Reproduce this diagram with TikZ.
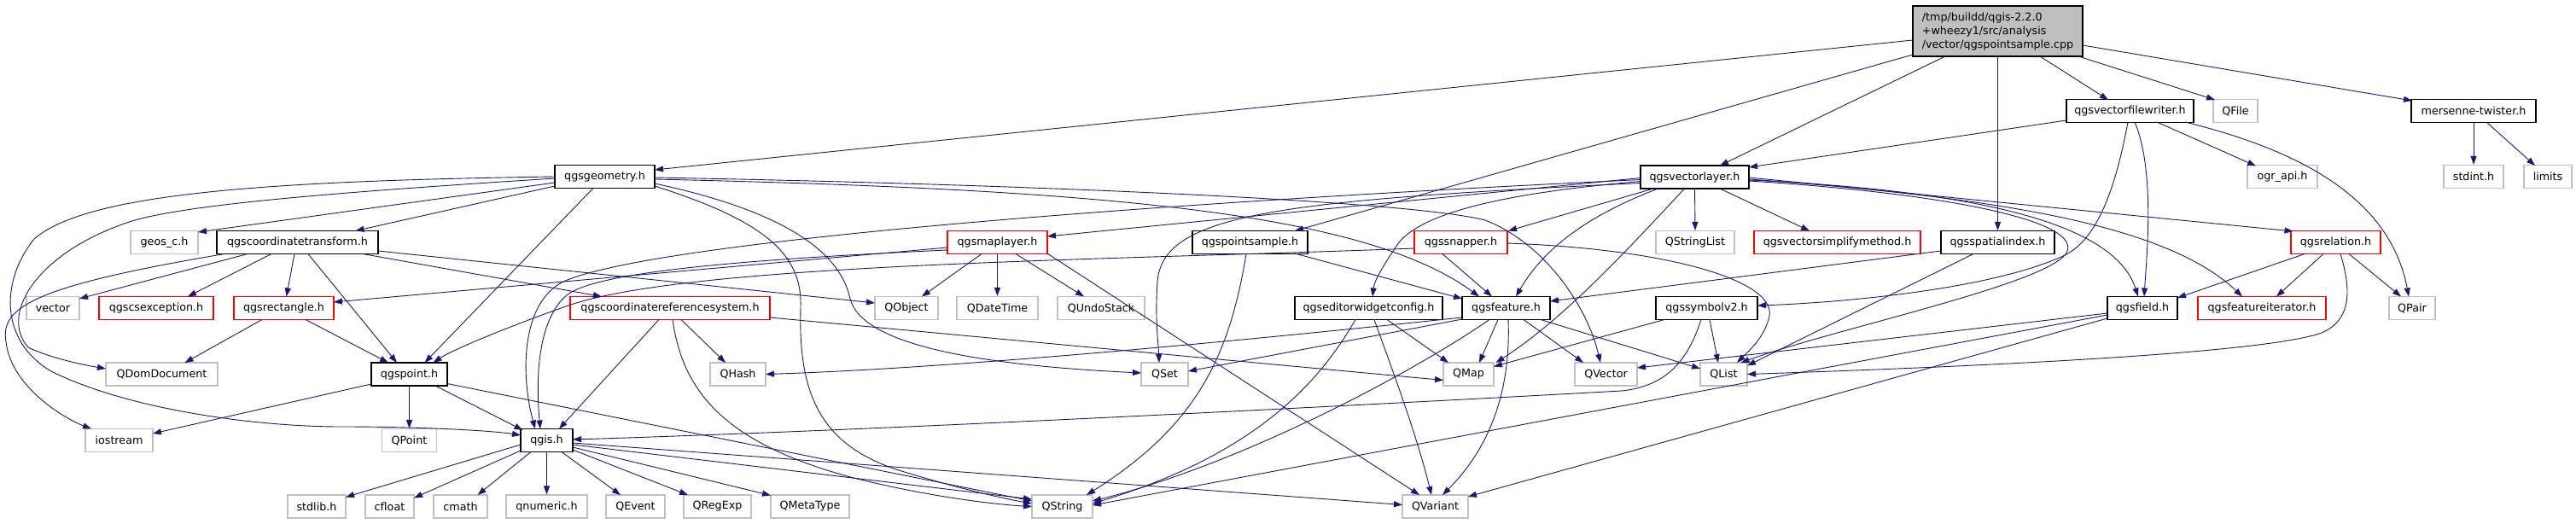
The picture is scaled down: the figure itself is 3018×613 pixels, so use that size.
\documentclass[tikz,border=0pt]{standalone}
\usepackage{fontspec}
\setmainfont{DejaVu Sans}
\usetikzlibrary{arrows.meta,calc}
\definecolor{edgecol}{HTML}{191970}
\definecolor{grayb}{HTML}{BFBFBF}
\definecolor{cppfill}{HTML}{BFBFBF}
\tikzset{
  nodebox/.style={draw, rectangle, inner sep=0pt, minimum height=27pt, fill=white, line width=1.1pt, font=\fontsize{12.7}{16}\selectfont},
  gbox/.style={nodebox, draw=grayb},
  kbox/.style={nodebox, draw=black},
  rbox/.style={nodebox, draw=red},
  cppbox/.style={nodebox, draw=black, fill=cppfill, minimum height=59pt, align=left},
  edge/.style={draw=edgecol, line width=0.9pt, -{Triangle[length=10pt,width=7pt]}}
}
\begin{document}
\begin{tikzpicture}[x=1pt,y=-1pt]
\useasboundingbox (0,0) rectangle (3018,613);
% row 1
\node[cppbox, minimum width=199pt] (cpp) at (2340.5,36.5) {/tmp/buildd/qgis-2.2.0\\+wheezy1/src/analysis\\/vector/qgspointsample.cpp};
% row 2
\node[kbox, minimum width=149pt] (vfw) at (2495.5,130) {qgsvectorfilewriter.h};
\node[gbox, minimum width=52pt] (qfile) at (2619,130) {QFile};
\node[kbox, minimum width=146pt] (mt) at (2898,130) {mersenne-twister.h};
% row 3
\node[kbox, minimum width=117pt] (geom) at (708.5,207) {qgsgeometry.h};
\node[kbox, minimum width=127pt] (vlayer) at (1985.5,207.5) {qgsvectorlayer.h};
\node[gbox, minimum width=82pt] (ogr) at (2674,207) {ogr\_api.h};
\node[gbox, minimum width=70pt] (stdint) at (2898,207) {stdint.h};
\node[gbox, minimum width=56pt] (limits) at (2985,207) {limits};
% row 4
\node[gbox, minimum width=79pt] (geos) at (192.5,284) {geos\_c.h};
\node[kbox, minimum width=189pt] (ct) at (348.5,284) {qgscoordinatetransform.h};
\node[rbox, minimum width=117pt] (maplayer) at (1168.5,284) {qgsmaplayer.h};
\node[kbox, minimum width=135pt] (psample) at (1464.5,284) {qgspointsample.h};
\node[rbox, minimum width=109pt] (snapper) at (1711.5,284) {qgssnapper.h};
\node[gbox, minimum width=92pt] (qsl) at (1986,284) {QStringList};
\node[rbox, minimum width=195pt] (vsm) at (2152.5,284) {qgsvectorsimplifymethod.h};
\node[kbox, minimum width=133pt] (spidx) at (2340.5,284) {qgsspatialindex.h};
\node[rbox, minimum width=105pt] (rel) at (2736.5,284) {qgsrelation.h};
% row 5
\node[gbox, minimum width=62pt] (vector) at (62,361) {vector};
\node[rbox, minimum width=134pt] (csexc) at (183,361) {qgscsexception.h};
\node[rbox, minimum width=117pt] (rect) at (332.5,361) {qgsrectangle.h};
\node[rbox, minimum width=234pt] (crs) at (785,361) {qgscoordinatereferencesystem.h};
\node[gbox, minimum width=74pt] (qobj) at (1062,361) {QObject};
\node[gbox, minimum width=95pt] (qdt) at (1168.5,361) {QDateTime};
\node[gbox, minimum width=102pt] (qus) at (1290,361) {QUndoStack};
\node[kbox, minimum width=173pt] (ewc) at (1603.5,361) {qgseditorwidgetconfig.h};
\node[kbox, minimum width=103pt] (feat) at (1764.5,361) {qgsfeature.h};
\node[kbox, minimum width=119pt] (sym) at (1999.5,361) {qgssymbolv2.h};
\node[kbox, minimum width=82pt] (field) at (2510,361) {qgsfield.h};
\node[rbox, minimum width=150pt] (fiter) at (2650,361) {qgsfeatureiterator.h};
\node[gbox, minimum width=54pt] (qpair) at (2826,361) {QPair};
% row 6
\node[gbox, minimum width=131pt] (qdom) at (189.5,438.5) {QDomDocument};
\node[kbox, minimum width=89pt] (point) at (479.5,438.5) {qgspoint.h};
\node[gbox, minimum width=65pt] (qhash) at (864.5,438.5) {QHash};
\node[gbox, minimum width=55pt] (qset) at (1364.5,438.5) {QSet};
\node[gbox, minimum width=59pt] (qmap) at (1720.5,438.5) {QMap};
\node[gbox, minimum width=73pt] (qvec) at (1881.5,438.5) {QVector};
\node[gbox, minimum width=55pt] (qlist) at (2019.5,438.5) {QList};
% row 7
\node[gbox, minimum width=79pt] (iostream) at (139.5,516) {iostream};
\node[gbox, minimum width=64pt] (qpoint) at (479.5,516) {QPoint};
\node[kbox, minimum width=61pt] (qgis) at (640.5,516) {qgis.h};
% row 8
\node[gbox, minimum width=68pt] (stdlib) at (371,593.5) {stdlib.h};
\node[gbox, minimum width=57pt] (cfloat) at (456.5,593.5) {cfloat};
\node[gbox, minimum width=63pt] (cmath) at (539.5,593.5) {cmath};
\node[gbox, minimum width=95pt] (qnum) at (640.5,593.5) {qnumeric.h};
\node[gbox, minimum width=69pt] (qevent) at (744.5,593.5) {QEvent};
\node[gbox, minimum width=79pt] (qregexp) at (840.5,593.5) {QRegExp};
\node[gbox, minimum width=92pt] (qmeta) at (949,593.5) {QMetaType};
\node[gbox, minimum width=71pt] (qstring) at (1244.5,593.5) {QString};
\node[gbox, minimum width=77pt] (qvariant) at (1681.5,593.5) {QVariant};

% ---- edges from cpp
\draw[edge] ($(cpp)+(-99.5,10.5)$) -- ($(geom)+(58.5,-8)$);
\draw[edge] ($(cpp)+(-99.5,27.5)$) -- ($(psample)+(52.5,-13.5)$);
\draw[edge] ($(cpp)+(-61.5,29.5)$) -- ($(vlayer)+(29.5,-13.5)$);
\draw[edge] (cpp.south) -- (spidx.north);
\draw[edge] ($(cpp)+(49.5,29.5)$) -- ($(vfw)+(-25.5,-13)$);
\draw[edge] ($(cpp)+(94.5,29.5)$) -- ($(qfile)+(-24,-13)$);
\draw[edge] ($(cpp)+(99.5,16.5)$) -- ($(mt)+(-72,-12)$);
% ---- vfw
\draw[edge] ($(vfw)+(-74.5,11)$) -- ($(vlayer)+(63.5,-11.5)$);
\draw[edge] ($(vfw)+(-2.5,13)$) .. controls (2475,240) and (2450,285) .. (2417,300) .. controls (2330,340) and (2150,355) .. ($(sym)+(59.5,-3)$);
\draw[edge] ($(vfw)+(5.5,13)$) .. controls (2525,200) and (2515,300) .. ($(field)+(2,-13.5)$);
\draw[edge] ($(vfw)+(31.5,13)$) -- ($(ogr)+(-31,-12.5)$);
\draw[edge] ($(vfw)+(64.5,13)$) .. controls (2690,175) and (2800,230) .. ($(qpair)+(-4,-13.5)$);
% ---- mersenne
\draw[edge] (mt.south) -- (stdint.north);
\draw[edge] ($(mt)+(15,13)$) -- ($(limits)+(-15,-13)$);
% ---- vlayer
\draw[edge] ($(vlayer)+(-63.5,1)$) -- ($(maplayer)+(58.5,-7)$);
\draw[edge] ($(vlayer)+(-63.5,3)$) .. controls (1300,240) and (760,285) .. (660,330) .. controls (610,355) and (610,440) .. ($(qgis)+(-13.5,-13.5)$);
\draw[edge] ($(vlayer)+(-63.5,7)$) .. controls (1500,235) and (1362,250) .. (1356,330) .. controls (1353,375) and (1357,400) .. ($(qset)+(-6.5,-13.5)$);
\draw[edge] ($(vlayer)+(-63.5,5)$) .. controls (1740,228) and (1655,255) .. (1635,290) .. controls (1618,315) and (1610,330) .. ($(ewc)+(4.5,-13.5)$);
\draw[edge] ($(vlayer)+(-48.5,13.5)$) -- ($(snapper)+(55.5,-13.5)$);
\draw[edge] ($(vlayer)+(-43,13.5)$) .. controls (1880,245) and (1815,280) .. ($(feat)+(11.5,-13.5)$);
\draw[edge] ($(vlayer)+(-12,13.5)$) .. controls (1900,300) and (1830,375) .. ($(qmap)+(32,-13.5)$);
\draw[edge] (vlayer.south) -- (qsl.north);
\draw[edge] ($(vlayer)+(29.5,13.5)$) -- ($(vsm)+(-32.5,-13.5)$);
\draw[edge] ($(vlayer)+(63.5,0.5)$) -- ($(rel)+(-50,-13)$);
\draw[edge] ($(vlayer)+(63.5,2.5)$) .. controls (2350,232) and (2540,265) .. ($(fiter)+(-23,-13.5)$);
\draw[edge] ($(vlayer)+(63.5,3.5)$) .. controls (2350,225) and (2480,270) .. ($(field)+(-5,-13.5)$);
\draw[edge] ($(vlayer)+(63.5,4.5)$) .. controls (2300,228) and (2445,262) .. (2420,298) .. controls (2390,335) and (2150,385) .. ($(qlist)+(20,-13.5)$);
% ---- geom
\draw[edge] ($(geom)+(-58.5,7)$) -- ($(geos)+(39.5,-12)$);
\draw[edge] ($(geom)+(-58.5,11)$) -- ($(ct)+(68,-13.5)$);
\draw[edge] ($(geom)+(-58.5,2)$) .. controls (400,225) and (200,240) .. (143,263) .. controls (40,300) and (0,370) .. (33,407) .. controls (60,420) and (100,428) .. ($(qdom)+(-65.5,-6.5)$);
\draw[edge] ($(geom)+(-58.5,0)$) .. controls (300,212) and (100,228) .. (40,280) .. controls (0,330) and (0,400) .. (60,435) .. controls (150,480) and (300,500) .. (400,500) .. controls (500,500) and (580,505) .. ($(qgis)+(-30.5,-6)$);
\draw[edge] ($(geom)+(-13.5,13.5)$) -- ($(point)+(18,-13.5)$);
\draw[edge] ($(geom)+(58.5,1)$) .. controls (1200,216) and (1650,235) .. (1740,258) .. controls (1810,285) and (1860,360) .. ($(qvec)+(-6.5,-13.5)$);
\draw[edge] ($(geom)+(58.5,3)$) .. controls (1300,222) and (1600,250) .. ($(feat)+(-31.5,-13.5)$);
\draw[edge] ($(geom)+(58.5,8)$) .. controls (930,250) and (985,300) .. (996,350) .. controls (1010,405) and (1150,428) .. ($(qset)+(-27.5,-1.5)$);
\draw[edge] ($(geom)+(58.5,11)$) .. controls (900,260) and (940,300) .. (938,360) .. controls (935,460) and (960,520) .. (1050,550) .. controls (1120,572) and (1180,585) .. ($(qstring)+(-35.5,-3.5)$);
% ---- ct
\draw[edge] ($(ct)+(-85.5,13.5)$) .. controls (40,335) and (0,360) .. (7,400) .. controls (12,450) and (70,488) .. ($(iostream)+(-32.5,-13.5)$);
\draw[edge] ($(ct)+(-58.5,13.5)$) -- ($(vector)+(31,-11)$);
\draw[edge] ($(ct)+(-30.5,13.5)$) -- ($(csexc)+(37,-13.5)$);
\draw[edge] ($(ct)+(-3.5,13.5)$) -- ($(rect)+(3,-13.5)$);
\draw[edge] ($(ct)+(12.5,13.5)$) -- ($(point)+(-14.5,-13.5)$);
\draw[edge] ($(ct)+(76.5,13.5)$) -- ($(crs)+(-80,-13.5)$);
\draw[edge] ($(ct)+(94.5,10)$) -- ($(qobj)+(-37,-6)$);
% ---- rect
\draw[edge] ($(rect)+(-25.5,13.5)$) -- ($(qdom)+(27,-13.5)$);
\draw[edge] ($(rect)+(25.5,13.5)$) -- ($(point)+(-24.5,-13.5)$);
% ---- crs
\draw[edge] ($(crs)+(-13,13.5)$) -- ($(qgis)+(14.5,-13.5)$);
\draw[edge] ($(crs)+(13,13.5)$) -- ($(qhash)+(-14.5,-13.5)$);
\draw[edge] ($(crs)+(3,13.5)$) .. controls (800,460) and (850,520) .. (1000,560) .. controls (1100,585) and (1180,592) .. ($(qstring)+(-35.5,0)$);
\draw[edge] ($(crs)+(117,11)$) -- ($(qmap)+(-29.5,7)$);
% ---- point
\draw[edge] ($(point)+(-44.5,11.5)$) -- ($(iostream)+(39.5,-8)$);
\draw[edge] (point.south) -- (qpoint.north);
\draw[edge] ($(point)+(30.5,13.5)$) -- ($(qgis)+(-28,-12)$);
\draw[edge] ($(point)+(44.5,11)$) -- ($(qstring)+(-35.5,-6.5)$);
% ---- qgis
\draw[edge] ($(qgis)+(-30.5,5)$) -- ($(stdlib)+(34,-11)$);
\draw[edge] ($(qgis)+(-30.5,12)$) -- ($(cfloat)+(28.5,-10)$);
\draw[edge] ($(qgis)+(-18.5,13.5)$) -- ($(cmath)+(20,-13.5)$);
\draw[edge] (qgis.south) -- (qnum.north);
\draw[edge] ($(qgis)+(17.5,13.5)$) -- ($(qevent)+(-17.5,-13.5)$);
\draw[edge] ($(qgis)+(30.5,11)$) -- ($(qregexp)+(-34.5,-13.5)$);
\draw[edge] ($(qgis)+(30.5,8)$) -- ($(qmeta)+(-46,-13)$);
\draw[edge] ($(qgis)+(30.5,5)$) -- ($(qstring)+(-35.5,-8.5)$);
\draw[edge] ($(qgis)+(30.5,3)$) -- ($(qvariant)+(-38.5,-2)$);
% ---- maplayer
\draw[edge] ($(maplayer)+(-18.5,13.5)$) -- ($(qobj)+(18,-13.5)$);
\draw[edge] (maplayer.south) -- (qdt.north);
\draw[edge] ($(maplayer)+(21.5,13.5)$) -- ($(qus)+(-20,-13.5)$);
\draw[edge] ($(maplayer)+(58.5,13)$) -- ($(qvariant)+(-18.5,-13.5)$);
\draw[edge] ($(maplayer)+(-58.5,6)$) -- ($(rect)+(58.5,-7)$);
\draw[edge] ($(maplayer)+(-58.5,9)$) .. controls (850,305) and (700,320) .. (665,345) .. controls (628,375) and (628,450) .. ($(qgis)+(-7.5,-13.5)$);
% ---- psample
\draw[edge] ($(psample)+(54.5,13.5)$) -- ($(feat)+(-51.5,-11)$);
\draw[edge] ($(psample)+(-4.5,13.5)$) .. controls (1440,420) and (1400,500) .. ($(qstring)+(28.5,-13.5)$);
% ---- snapper
\draw[edge] ($(snapper)+(-54.5,7)$) .. controls (1300,305) and (800,308) .. (660,360) .. controls (590,385) and (530,410) .. ($(point)+(28,-13.5)$);
\draw[edge] ($(snapper)+(-21.5,13.5)$) -- ($(feat)+(-16.5,-13.5)$);
\draw[edge] ($(snapper)+(54.5,1)$) .. controls (1960,292) and (2080,330) .. (2073,370) .. controls (2068,395) and (2048,412) .. ($(qlist)+(15.5,-13.5)$);
% ---- ewc
\draw[edge] ($(ewc)+(-15.5,13.5)$) .. controls (1550,440) and (1480,530) .. ($(qstring)+(35.5,-3.5)$);
\draw[edge] ($(ewc)+(6.5,13.5)$) .. controls (1630,430) and (1660,510) .. ($(qvariant)+(-4.5,-13.5)$);
\draw[edge] ($(ewc)+(21.5,13.5)$) -- ($(qmap)+(-23.5,-13.5)$);
% ---- feat
\draw[edge] ($(feat)+(-51.5,11)$) .. controls (1400,405) and (1100,432) .. ($(qhash)+(32.5,0)$);
\draw[edge] ($(feat)+(-51.5,13)$) -- ($(qset)+(27.5,-3.5)$);
\draw[edge] ($(feat)+(-19.5,13.5)$) .. controls (1650,440) and (1450,545) .. ($(qstring)+(35.5,-6.5)$);
\draw[edge] ($(feat)+(-9.5,13.5)$) -- ($(qmap)+(12.5,-13.5)$);
\draw[edge] ($(feat)+(2.5,13.5)$) .. controls (1770,450) and (1750,520) .. ($(qvariant)+(8.5,-13.5)$);
\draw[edge] ($(feat)+(20.5,13.5)$) -- ($(qvec)+(-26.5,-13.5)$);
\draw[edge] ($(feat)+(40.5,13.5)$) -- ($(qlist)+(-27.5,-6.5)$);
% ---- sym
\draw[edge] ($(sym)+(-49.5,13.5)$) -- ($(qmap)+(29.5,-9)$);
\draw[edge] ($(sym)+(3.5,13.5)$) -- ($(qlist)+(-6.5,-13.5)$);
\draw[edge] ($(sym)+(-6.5,13.5)$) .. controls (1978,420) and (1955,452) .. (1900,458) .. controls (1500,480) and (1000,505) .. ($(qgis)+(30.5,-1)$);
% ---- field
\draw[edge] ($(field)+(-41,6)$) -- ($(qvec)+(36.5,-7.5)$);
\draw[edge] ($(field)+(-41,8)$) -- ($(qstring)+(35.5,-1.5)$);
\draw[edge] ($(field)+(-41,12)$) -- ($(qvariant)+(38.5,-11.5)$);
% ---- spidx
\draw[edge] ($(spidx)+(-28.5,13.5)$) -- ($(qlist)+(27.5,-10)$);
\draw[edge] ($(spidx)+(-66.5,10)$) -- ($(feat)+(51.5,-8)$);
% ---- rel
\draw[edge] ($(rel)+(-36.5,13.5)$) -- ($(field)+(41,-12)$);
\draw[edge] ($(rel)+(-14.5,13.5)$) -- ($(fiter)+(17,-13.5)$);
\draw[edge] ($(rel)+(15.5,13.5)$) -- ($(qpair)+(-13,-13.5)$);
\draw[edge] ($(rel)+(5.5,13.5)$) .. controls (2755,340) and (2755,375) .. (2720,390) .. controls (2650,415) and (2300,430) .. ($(qlist)+(27.5,0)$);
\end{tikzpicture}
\end{document}
